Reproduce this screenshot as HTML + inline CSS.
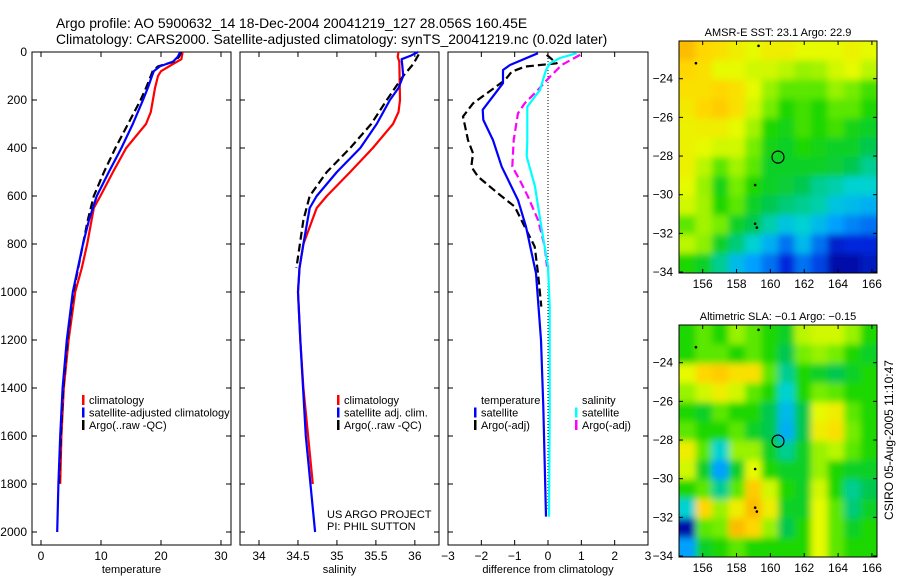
<!DOCTYPE html>
<html><head><meta charset="utf-8">
<style>
body{margin:0;background:#fff;width:900px;height:580px;overflow:hidden}
svg{display:block;font-family:"Liberation Sans",sans-serif}
</style></head>
<body>
<svg id="c" width="900" height="580" xmlns="http://www.w3.org/2000/svg">
<defs><filter id="bl" x="-10%" y="-10%" width="120%" height="120%"><feGaussianBlur stdDeviation="3.5"/></filter>
<clipPath id="m1c"><rect x="679" y="41" width="198" height="232"/></clipPath>
<clipPath id="m2c"><rect x="679" y="325" width="198" height="232"/></clipPath></defs>
<text x="56" y="28" font-size="13.9">Argo profile: AO 5900632_14 18-Dec-2004 20041219_127 28.056S 160.45E</text>
<text x="56" y="44" font-size="13.9">Climatology: CARS2000. Satellite-adjusted climatology: synTS_20041219.nc (0.02d later)</text>
<text transform="translate(893,440) rotate(-90)" text-anchor="middle" font-size="12">CSIRO 05-Aug-2005 11:10:47</text>
</svg>
<script>
// ---- data ----
const depthTicks=[0,200,400,600,800,1000,1200,1400,1600,1800,2000];
const tempTicks=[0,10,20,30];
const salTicks=[34,34.5,35,35.5,36];
const diffTicks=[-3,-2,-1,0,1,2,3];
const tempClimD=[0,30,50,80,100,150,250,300,400,500,600,650,800,900,1000,1200,1400,1600,1800];
const tempClimV=[23.6,23.4,22,20,19.5,19.0,18.3,17.5,14.2,12,9.9,8.8,7.7,6.8,5.7,4.6,3.8,3.4,3.2];
const tempSatD=[0,20,40,60,80,100,150,200,300,400,500,600,700,800,1000,1200,1400,1600,1800,2000];
const tempSatV=[23.2,22.8,22,19.8,18.8,18.5,17.8,17,15.3,13.4,11.3,9.3,8,7,5.3,4.3,3.6,3.2,2.9,2.7];
const tempArgoD=[0,20,40,60,80,100,150,200,300,400,500,600,700,800,1000,1200,1400,1600,1800];
const tempArgoV=[23.4,23,22.2,19.5,18.6,18.3,17.5,16.6,14.5,12.4,10.5,8.8,7.8,7,5.4,4.4,3.7,3.3,3];
const salClimD=[0,20,40,200,250,300,400,500,600,650,800,900,1000,1200,1400,1600,1800];
const salClimV=[35.79,35.78,35.8,35.81,35.79,35.72,35.46,35.17,34.87,34.74,34.57,34.52,34.5,34.53,34.57,34.63,34.69];
const salSatD=[0,15,30,60,100,150,200,300,400,500,600,650,800,900,1000,1200,1600,2000];
const salSatV=[36.04,35.95,35.83,35.84,35.85,35.79,35.68,35.51,35.3,35.0,34.74,34.65,34.57,34.52,34.5,34.53,34.6,34.72];
const salArgoD=[10,50,100,200,300,400,500,600,700,900];
const salArgoV=[36.05,35.98,35.85,35.64,35.44,35.17,34.87,34.65,34.57,34.48];
const dTsD=[5,54,75,130,241,283,367,478,617,728,922,1200,1478,1936];
const dTsV=[-0.3,-1.14,-1.35,-1.35,-1.96,-1.94,-1.65,-1.39,-0.9,-0.66,-0.36,-0.21,-0.14,-0.06];
const dTaD=[12,47,61,82,117,214,269,367,422,478,519,589,644,728,811,922,1061];
const dTaV=[-0.04,0.26,-0.69,-1.09,-1.29,-2.25,-2.55,-2.4,-2.25,-2.3,-2.1,-1.5,-1.0,-0.7,-0.4,-0.3,-0.2];
const dSsD=[5,25,47,75,158,228,367,436,561,728,894,1061,1500,1936];
const dSsV=[0.86,0.36,0.06,-0.06,-0.24,-0.62,-0.62,-0.64,-0.39,-0.2,0.0,0.05,0.05,0.03];
const dSaD=[12,54,103,158,214,255,367,478,533,603,700,811,894];
const dSaV=[0.96,0.41,0.06,-0.3,-0.7,-0.9,-1.03,-1.07,-0.85,-0.6,-0.3,-0.1,-0.03];
const lonTicks=[156,158,160,162,164,166];
const latTicks=[-24,-26,-28,-30,-32,-34];
const sstGrid=[
[.85,.8,.78,.75,.72,.75,.75,.72,.72,.72,.74,.72],
[.8,.78,.72,.72,.7,.7,.68,.65,.66,.7,.72,.68],
[.78,.78,.8,.78,.72,.65,.6,.6,.6,.65,.62,.58],
[.76,.8,.82,.78,.7,.62,.55,.58,.55,.6,.6,.55],
[.74,.75,.75,.72,.66,.55,.52,.58,.55,.58,.52,.5],
[.74,.72,.7,.7,.62,.52,.5,.55,.52,.5,.5,.45],
[.74,.68,.6,.66,.6,.5,.5,.5,.5,.48,.45,.4],
[.72,.65,.52,.62,.55,.5,.48,.45,.4,.38,.35,.35],
[.7,.66,.55,.6,.5,.45,.42,.4,.38,.32,.3,.28],
[.6,.66,.62,.5,.45,.38,.32,.35,.3,.25,.22,.2],
[.68,.64,.5,.42,.35,.28,.2,.3,.2,.1,.12,.12],
[.55,.5,.4,.3,.25,.2,.12,.2,.15,.05,.05,.08]];
const slaGrid=[
[.55,.6,.55,.65,.6,.55,.5,.68,.7,.7,.65,.55],
[.55,.6,.6,.55,.6,.55,.45,.62,.65,.62,.55,.5],
[.72,.8,.82,.78,.78,.6,.4,.55,.5,.45,.5,.55],
[.65,.7,.75,.7,.6,.55,.35,.55,.62,.6,.55,.55],
[.55,.5,.6,.55,.55,.45,.3,.45,.72,.75,.6,.55],
[.6,.55,.55,.6,.5,.45,.28,.45,.75,.78,.62,.55],
[.75,.6,.35,.65,.65,.5,.4,.5,.65,.68,.6,.55],
[.7,.5,.25,.5,.72,.55,.5,.5,.65,.55,.5,.5],
[.55,.6,.4,.6,.82,.7,.55,.5,.7,.55,.4,.45],
[.35,.8,.65,.75,.85,.75,.5,.5,.72,.6,.42,.5],
[.05,.6,.62,.85,.8,.65,.45,.55,.72,.6,.5,.55],
[.25,.5,.55,.6,.55,.55,.55,.55,.72,.6,.55,.55]];
const floatLon=160.45, floatLat=-28.056;

const S=document.getElementById('c'),NS='http://www.w3.org/2000/svg';
function mk(t,a,p){const e=document.createElementNS(NS,t);for(const k in a)e.setAttribute(k,a[k]);(p||S).appendChild(e);return e;}
const Y0=52,Y1=545,yS=0.24;const yD=d=>Y0+d*yS;
function panel(name,x0,x1,v0,v1,xt,lab,xtitle){
  const xf=v=>x0+(v-v0)/(v1-v0)*(x1-x0);
  const g=mk('g',{});
  const r=mk('rect',{x:x0,y:Y0,width:x1-x0,height:Y1-Y0,fill:'none',stroke:'#000'},g);
  
  depthTicks.forEach(d=>{mk('line',{x1:x0,x2:x0+5,y1:yD(d),y2:yD(d),stroke:'#000'},g);mk('line',{x1:x1,x2:x1-5,y1:yD(d),y2:yD(d),stroke:'#000'},g);});
  xt.forEach((v,i)=>{const x=xf(v);mk('line',{x1:x,x2:x,y1:Y0,y2:Y0+5,stroke:'#000'},g);mk('line',{x1:x,x2:x,y1:Y1,y2:Y1-5,stroke:'#000'},g);
    const t=mk('text',{x:x,y:Y1+15,'font-size':12,'text-anchor':'middle'},g);t.textContent=lab[i];
    });
  const tt=mk('text',{x:(x0+x1)/2,y:573,'font-size':11,'text-anchor':'middle'},g);tt.textContent=xtitle;
  
  return {xf,g};
}
function line(p,D,V,col,dash,nm){
  const pts=D.map((d,i)=>p.xf(V[i]).toFixed(1)+','+yD(d).toFixed(1)).join(' ');
  const a={points:pts,fill:'none',stroke:col,'stroke-width':2.2,'stroke-linejoin':'round'};if(dash)a['stroke-dasharray']=dash;
  const e=mk('polyline',a,p.g);
}
depthTicks.forEach(d=>{const t=mk('text',{x:27,y:yD(d)+4,'font-size':12,'text-anchor':'end'});t.textContent=d;
  });
const P1=panel('temperature',32,231,-1.5,31.67,tempTicks,['0','10','20','30'],'temperature');
line(P1,tempClimD,tempClimV,'#f00',null,'temp-climatology-line');
line(P1,tempArgoD,tempArgoV,'#000','8 4','temp-argo-line');
line(P1,tempSatD,tempSatV,'#00f',null,'temp-satellite-line');
const P2=panel('salinity',240,439,33.756,36.31,salTicks,['34','34.5','35','35.5','36'],'salinity');
line(P2,salClimD,salClimV,'#f00',null,'sal-climatology-line');
line(P2,salArgoD,salArgoV,'#000','8 4','sal-argo-line');
line(P2,salSatD,salSatV,'#00f',null,'sal-satellite-line');
const P3=panel('difference',448,648,-3,3,diffTicks,['\u22123','\u22122','\u22121','0','1','2','3'],'difference from climatology');
const zl=mk('line',{x1:P3.xf(0),x2:P3.xf(0),y1:Y0,y2:510,stroke:'#000','stroke-dasharray':'1 2'},P3.g);

line(P3,dTaD,dTaV,'#000','8 4','diff-temp-argo-line');
line(P3,dSaD,dSaV,'#f0f','8 4','diff-sal-argo-line');
line(P3,dSsD,dSsV,'#0ff',null,'diff-sal-satellite-line');
line(P3,dTsD,dTsV,'#00f',null,'diff-temp-satellite-line');
function legend(x,y,items,nm){items.forEach((it,i)=>{const yy=y+i*12.5;
  if(it[1]){const b=mk('rect',{x:x,y:yy-9,width:2.5,height:10,fill:it[1]});}
  const t=mk('text',{x:x+7,y:yy,'font-size':11});t.textContent=it[0];});}
legend(82,404,[['climatology','#f00'],['satellite-adjusted climatology','#00f'],['Argo(..raw -QC)','#000']],'legend-temp');
legend(337,404,[['climatology','#f00'],['satellite adj. clim.','#00f'],['Argo(..raw -QC)','#000']],'legend-sal');
legend(474,404,[['temperature',null],['satellite','#00f'],['Argo(-adj)','#000']],'legend-diff-temp');
legend(575,404,[['salinity',null],['satellite','#0ff'],['Argo(-adj)','#f0f']],'legend-diff-sal');
const p1=mk('text',{x:327,y:518,'font-size':11});p1.textContent='US ARGO PROJECT';
const p2=mk('text',{x:327,y:530,'font-size':11});p2.textContent='PI: PHIL SUTTON';
// colormap
const cm=[[0,[0,0,130]],[.12,[0,40,220]],[.25,[0,160,255]],[.35,[0,210,210]],[.45,[0,200,80]],[.55,[30,215,0]],[.63,[130,240,0]],[.72,[230,250,0]],[.8,[255,215,0]],[.9,[250,160,0]],[1,[220,110,0]]];
function col(v){for(let i=1;i<cm.length;i++)if(v<=cm[i][0]){const a=cm[i-1],b=cm[i],t=(v-a[0])/(b[0]-a[0]);return 'rgb('+a[1].map((c,k)=>Math.round(c+(b[1][k]-c)*t)).join(',')+')';}return 'rgb(220,110,0)';}
function map(name,y0,grid,title){
  const x0=679,w=198,h=232,lon0=154.6,lon1=166.3,lat0=-22.05,lat1=-34.05;
  const xf=l=>x0+(l-lon0)/(lon1-lon0)*w,yf=l=>y0+(l-lat0)/(lat1-lat0)*h;
  const g=mk('g',{'clip-path':'url(#'+name+'c)'});
  const gi=mk('g',{filter:'url(#bl)'},g);
  const R=grid.length,C=grid[0].length,cw=w/C,ch=h/R;
  mk('rect',{x:x0-10,y:y0-10,width:w+20,height:h+20,fill:col(.6)},gi);
  grid.forEach((row,r)=>row.forEach((v,c)=>{const e=mk('rect',{x:x0+c*cw-(c==0?10:0),y:y0+r*ch-(r==0?10:0),width:cw+1+(c==0||c==C-1?10:0),height:ch+1+(r==0||r==R-1?10:0),fill:col(v)},gi);
    }));
  const ci=mk('circle',{cx:xf(floatLon),cy:yf(floatLat),r:6,fill:'none',stroke:'#000','stroke-width':1.2},g);
  
  [[159.3,-22.3],[155.6,-23.2],[159.1,-29.5],[159.1,-31.5],[159.2,-31.7]].forEach(p=>mk('circle',{cx:xf(p[0]),cy:yf(p[1]),r:1.3,fill:'#000'},g));
  const fr=mk('rect',{x:x0,y:y0,width:w,height:h,fill:'none',stroke:'#000'});
  lonTicks.forEach(l=>{const x=xf(l);mk('line',{x1:x,x2:x,y1:y0,y2:y0+4,stroke:'#000'});mk('line',{x1:x,x2:x,y1:y0+h,y2:y0+h-4,stroke:'#000'});
    const t=mk('text',{x:x,y:y0+h+15,'font-size':12,'text-anchor':'middle'});t.textContent=l;});
  latTicks.forEach(l=>{const y=yf(l);mk('line',{x1:x0,x2:x0+4,y1:y,y2:y,stroke:'#000'});mk('line',{x1:x0+w,x2:x0+w-4,y1:y,y2:y,stroke:'#000'});
    const t=mk('text',{x:673,y:y+4,'font-size':12,'text-anchor':'end'});t.textContent=String(l).replace('-','\u2212');});
  const tt=mk('text',{x:x0+w/2,y:y0-5,'font-size':11,'text-anchor':'middle'});tt.textContent=title;
}
map('m1',41,sstGrid,'AMSR-E SST: 23.1 Argo: 22.9');
map('m2',325,slaGrid,'Altimetric SLA: \u22120.1 Argo: \u22120.15');
</script>
</body></html>
